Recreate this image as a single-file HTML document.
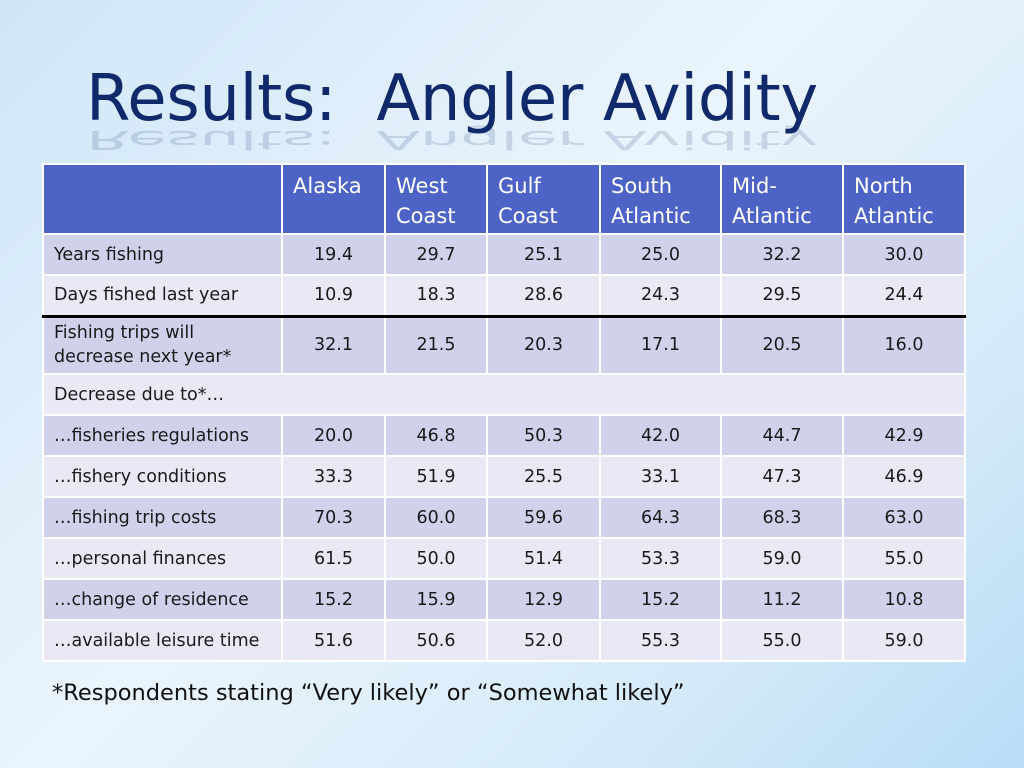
<!DOCTYPE html>
<html><head><meta charset="utf-8"><style>
body{margin:0;width:1024px;height:768px;overflow:hidden;background:linear-gradient(135deg,#cfe6f8 0%,#eaf4fc 45%,#d6ebfa 75%,#b9dcf5 100%);font-family:"DejaVu Sans","Liberation Sans",sans-serif;position:relative}
#title{position:absolute;left:86px;top:62px;font-size:64px;color:#10296a;letter-spacing:-0.3px;white-space:pre}
#refl{position:absolute;left:86px;top:154px;font-size:64px;color:#10296a;opacity:0.15;transform:scaleY(-0.4);transform-origin:top;white-space:pre;letter-spacing:-0.3px}
table{position:absolute;left:42px;top:163px;border-collapse:collapse;font-size:17.5px;color:#1a1a1a}
td,th{border:2px solid #fff;padding:0 10px}
th{background:#4d63c6;color:#fff;font-weight:normal;text-align:left;vertical-align:top;padding-top:6px;font-size:21px;line-height:30px;height:62px}
td{text-align:center}
td:first-child{text-align:left}
tr.o td{background:#cfd2ea}
tr.e td{background:#e8e9f4}
tr.thick td{border-top:3px solid #000}
#note{position:absolute;left:52px;top:680px;font-size:22.5px;color:#111}
</style></head><body>
<div id="title">Results:  Angler Avidity</div>
<div id="refl">Results:  Angler Avidity</div>
<table>
<colgroup><col style="width:239px"><col style="width:103px"><col style="width:102px"><col style="width:113px"><col style="width:121px"><col style="width:122px"><col style="width:122px"></colgroup>
<tr><th></th><th>Alaska</th><th>West<br>Coast</th><th>Gulf<br>Coast</th><th>South<br>Atlantic</th><th>Mid-<br>Atlantic</th><th>North<br>Atlantic</th></tr>
<tr class="o" style="height:41px"><td>Years fishing</td><td>19.4</td><td>29.7</td><td>25.1</td><td>25.0</td><td>32.2</td><td>30.0</td></tr>
<tr class="e" style="height:41px"><td>Days fished last year</td><td>10.9</td><td>18.3</td><td>28.6</td><td>24.3</td><td>29.5</td><td>24.4</td></tr>
<tr class="o thick" style="height:58px"><td style="line-height:24px">Fishing trips will<br>decrease next year*</td><td>32.1</td><td>21.5</td><td>20.3</td><td>17.1</td><td>20.5</td><td>16.0</td></tr>
<tr class="e" style="height:41px"><td colspan="7" style="text-align:left">Decrease due to*…</td></tr>
<tr class="o" style="height:41px"><td>…fisheries regulations</td><td>20.0</td><td>46.8</td><td>50.3</td><td>42.0</td><td>44.7</td><td>42.9</td></tr>
<tr class="e" style="height:41px"><td>…fishery conditions</td><td>33.3</td><td>51.9</td><td>25.5</td><td>33.1</td><td>47.3</td><td>46.9</td></tr>
<tr class="o" style="height:41px"><td>…fishing trip costs</td><td>70.3</td><td>60.0</td><td>59.6</td><td>64.3</td><td>68.3</td><td>63.0</td></tr>
<tr class="e" style="height:41px"><td>…personal finances</td><td>61.5</td><td>50.0</td><td>51.4</td><td>53.3</td><td>59.0</td><td>55.0</td></tr>
<tr class="o" style="height:41px"><td>…change of residence</td><td>15.2</td><td>15.9</td><td>12.9</td><td>15.2</td><td>11.2</td><td>10.8</td></tr>
<tr class="e" style="height:41px"><td>…available leisure time</td><td>51.6</td><td>50.6</td><td>52.0</td><td>55.3</td><td>55.0</td><td>59.0</td></tr>
</table>
<div id="note">*Respondents stating “Very likely” or “Somewhat likely”</div>
</body></html>
